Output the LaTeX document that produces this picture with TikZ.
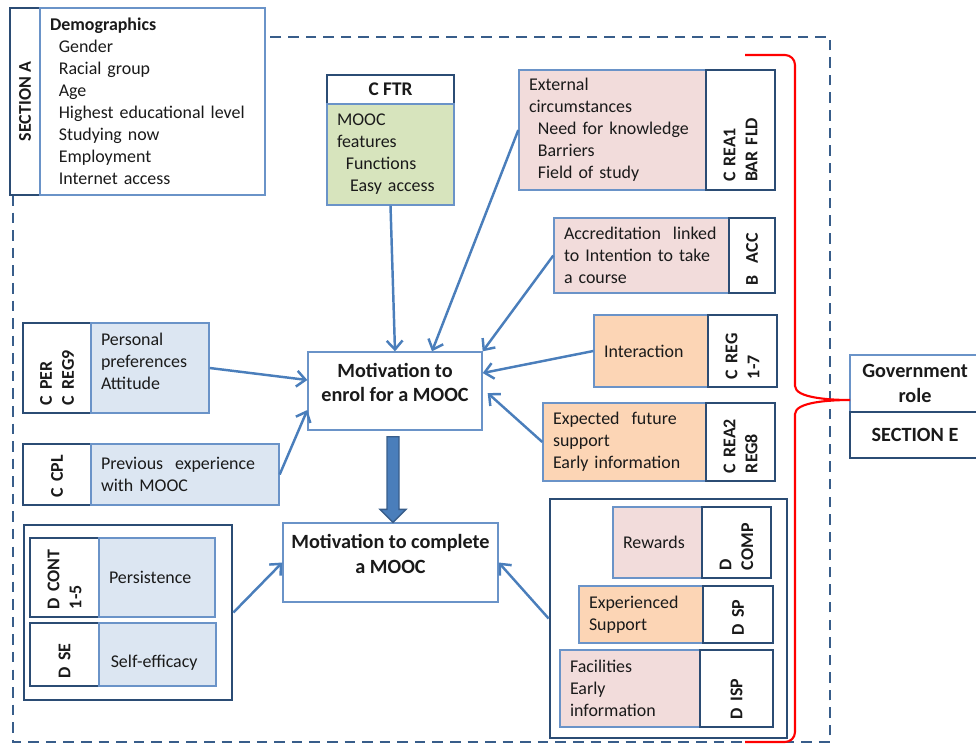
\documentclass[tikz,border=0pt]{standalone}
\usepackage{fontspec}
\setmainfont{Carlito}
\usepackage{tikz}
\usetikzlibrary{calc,arrows.meta}

\definecolor{framecol}{HTML}{385D8A}
\definecolor{thickcol}{HTML}{2B4C74}
\definecolor{thincol}{HTML}{6A93C8}
\definecolor{arrowcol}{HTML}{4A7EBB}
\definecolor{bluefill}{HTML}{DCE6F2}
\definecolor{pinkfill}{HTML}{F2DCDB}
\definecolor{peachfill}{HTML}{FCD5B5}
\definecolor{greenfill}{HTML}{D7E4BD}
\definecolor{textcol}{HTML}{1A1A1A}
\newcommand{\basefont}{\fontsize{10.2}{12.5}\selectfont}
\newcommand{\titlefont}{\fontsize{11.5}{14}\selectfont\bfseries}

\begin{document}
\begin{tikzpicture}[x=0.02cm,y=-0.02cm,text=textcol,font=\basefont,
		txtbox/.style={draw=thincol,line width=0.8pt,inner xsep=0.2cm,align=left},
		codebox/.style={draw=thickcol,line width=1.6pt,fill=white,rotate=90,inner xsep=0.16cm,align=left,font=\basefont\bfseries},
		titlebox/.style={align=center,font=\titlefont},
		conn/.style={draw=arrowcol,line width=1.4pt,-{Straight Barb[length=5pt,width=9pt]}}]
	\useasboundingbox (0,0) rectangle (976,744);
	% dashed frame
	\draw[framecol,line width=1.6pt,dash pattern=on 6pt off 4pt] (13,37) rectangle (830,742);
	% section A
	\node[codebox,minimum width=3.74cm,minimum height=0.6cm] (secA) at (25,101.5) {SECTION A};
	\node[txtbox,fill=white,text width=4.1cm,minimum height=3.74cm] (demo) at (152.5,101.5)
		{\textbf{Demographics}\\\hspace*{5pt}Gender\\\hspace*{5pt}Racial group\\\hspace*{5pt}Age\\
		\hspace*{5pt}Highest educational\ level\\\hspace*{5pt}Studying now\\\hspace*{5pt}Employment\\\hspace*{5pt}Internet access};
	% features
	\node[titlebox,font=\fontsize{11}{13}\selectfont\bfseries,draw=thickcol,line width=1.6pt,fill=white,minimum width=2.54cm,minimum height=0.58cm] (cftr) at (390.5,89.5) {C FTR};
	\node[txtbox,fill=greenfill,text width=2.14cm,minimum height=2.02cm] (feat) at (390.5,154.5)
		{MOOC\\features\\\hspace*{5pt}Functions\\\hspace*{7.5pt}Easy access};
	% right column
	\node[txtbox,fill=pinkfill,text width=3.34cm,minimum height=2.4cm] (ext) at (612.5,130)
		{External\\circumstances\\\hspace*{5pt}Need\ for knowledge\\\hspace*{5pt}Barriers\\\hspace*{5pt}Field\ of study};
	\node[codebox,text width=2.08cm,minimum height=1.38cm] (extc) at (740.5,130) {C REA1\\BAR FLD};
	\node[txtbox,fill=pinkfill,text width=3.1cm,minimum height=1.5cm] (acc) at (641.5,255.5)
		{Accreditation\ \ linked\\to Intention to take\\a course};
	\node[codebox,text width=1.18cm,minimum height=0.92cm] (accc) at (752,255.5) {B\ \ ACC};
	\node[txtbox,fill=peachfill,text width=1.88cm,minimum height=1.44cm] (inter) at (651,351) {Interaction};
	\node[codebox,text width=1.12cm,minimum height=1.38cm] (interc) at (742.5,351) {C REG\\1-7};
	\node[txtbox,fill=peachfill,text width=2.86cm,minimum height=1.56cm] (expt) at (624.5,442)
		{Expected\ \ future\\support\\Early information};
	\node[codebox,text width=1.24cm,minimum height=1.38cm] (exptc) at (740.5,442) {C REA2\\REG8};
	% government
	\node[titlebox,draw=thincol,line width=0.8pt,fill=white,minimum width=2.6cm,minimum height=1.14cm] (gov) at (915,383.5) {Government\\role};
	\node[titlebox,draw=thickcol,line width=1.6pt,fill=white,minimum width=2.6cm,minimum height=0.92cm] (secE) at (915,435) {SECTION E};
	% motivation
	\node[titlebox,draw=thincol,line width=0.8pt,fill=white,minimum width=3.48cm,minimum height=1.56cm] (enrol) at (395,391)
		{Motivation to\\enrol for a MOOC\\[-4pt]\mbox{}};
	\node[titlebox,draw=thincol,line width=0.8pt,fill=white,minimum width=4.3cm,minimum height=1.58cm] (complete) at (390.5,562.5)
		{Motivation to complete\\a MOOC\\[-4pt]\mbox{}};
	% left column
	\node[codebox,text width=1.48cm,minimum height=1.36cm] (persc) at (57,368) {C PER\\C REG9};
	\node[txtbox,fill=bluefill,text width=1.96cm,minimum height=1.8cm] (pers) at (150,368)
		{Personal\\preferences\\Attitude\\[-5pt]\mbox{}};
	\node[codebox,text width=0.9cm,minimum height=1.36cm] (cplc) at (57,474.5) {C CPL};
	\node[txtbox,fill=bluefill,text width=3.36cm,minimum height=1.22cm] (prev) at (185,474.5)
		{Previous\ \ experience\\with MOOC};
	% continuing group
	\node[draw=thickcol,line width=1.6pt,fill=white,minimum width=4.16cm,minimum height=3.5cm] (grpL) at (128,612.5) {};
	\node[codebox,text width=1.26cm,minimum height=1.38cm] (contc) at (64.5,577.5) {D CONT\\1-5};
	\node[txtbox,fill=bluefill,text width=1.92cm,minimum height=1.58cm] (persist) at (157,577.5) {Persistence};
	\node[codebox,text width=0.94cm,minimum height=1.38cm] (sec) at (64.5,654.5) {D SE};
	\node[txtbox,fill=bluefill,text width=1.94cm,minimum height=1.26cm] (self) at (157.5,654.5)
		{\hspace*{1pt}\raisebox{-4.5pt}[\height][\depth]{Self-efficacy}};
	% support group
	\node[draw=thickcol,line width=1.6pt,fill=white,minimum width=4.74cm,minimum height=4.78cm] (grpR) at (668.5,618.5) {};
	\node[txtbox,fill=pinkfill,text width=1.38cm,minimum height=1.42cm] (rew) at (657.5,542.5) {Rewards};
	\node[codebox,text width=1.1cm,minimum height=1.38cm] (compc) at (736.5,542.5) {D\\COMP};
	\node[txtbox,fill=peachfill,text width=2.08cm,minimum height=1.14cm] (esup) at (641,614.5) {Experienced\\Support};
	\node[codebox,text width=0.82cm,minimum height=1.4cm] (spc) at (738,614.5) {D SP};
	\node[txtbox,fill=pinkfill,text width=2.4cm,minimum height=1.54cm] (fac) at (630,688.5) {Facilities\\Early\\information};
	\node[codebox,text width=1.22cm,minimum height=1.46cm] (ispc) at (736.5,688.5) {D ISP};
	% brace
	\draw[red,line width=1.2pt] (745,55) -- (785,55) to[out=0,in=90] (795,65) -- (795,386)
		.. controls (795,398) and (830,400) .. (850,400)
		.. controls (830,400) and (795,402) .. (795,414) -- (795,732) to[out=-90,in=0] (785,742) -- (745,742);
	% arrows
	\draw[conn] (feat.south) -- (enrol.north);
	\draw[conn] (ext.west) -- ($(enrol.north)+(37,0)$);
	\draw[conn] (acc.west) -- (enrol.north east);
	\draw[conn] (inter.west) -- ($(enrol.east)+(0,-18)$);
	\draw[conn] (expt.west) -- ($(enrol.east)+(5,2)$);
	\draw[conn] (pers.east) -- ($(enrol.west)+(0,-11)$);
	\draw[conn] (prev.east) -- ($(enrol.west)+(0,19)$);
	\draw[conn] (grpL.east) -- (complete.west);
	\draw[conn] (grpR.west) -- (complete.east);
	% big arrow
	\coordinate (bs) at ($(enrol.south)+(-2,6)$);
	\coordinate (bt) at ($(enrol.south |- complete.north)+(-2,0)$);
	\draw[draw=framecol,fill=arrowcol,line width=0.8pt] ($(bs)+(-6,0)$) -- ($(bs)+(6,0)$) -- ($(bt)+(6,-13)$)
		-- ($(bt)+(13,-13)$) -- (bt) -- ($(bt)+(-13,-13)$) -- ($(bt)+(-6,-13)$) -- cycle;
\end{tikzpicture}
\end{document}
